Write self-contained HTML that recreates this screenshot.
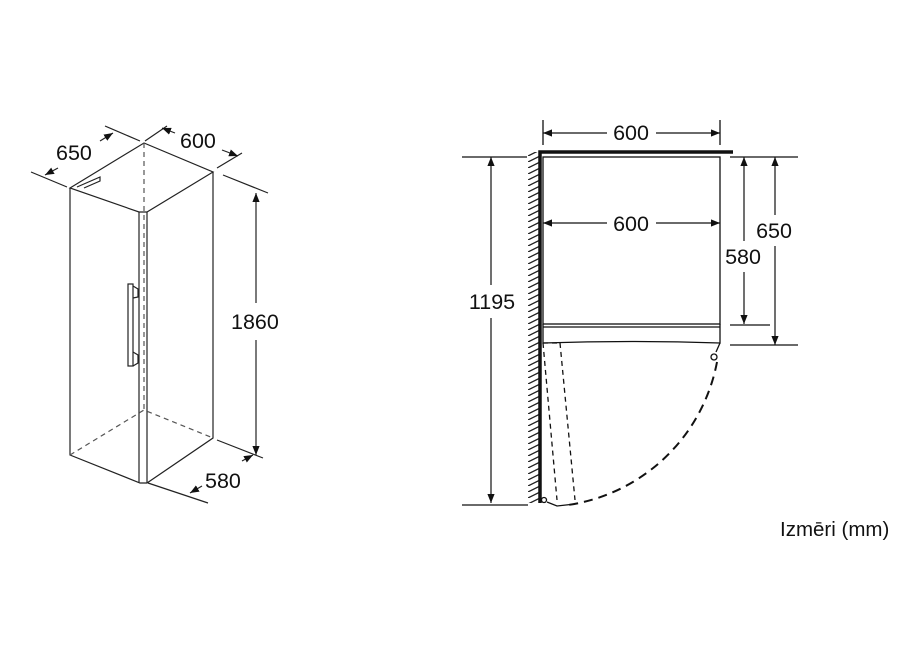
<!DOCTYPE html>
<html><head><meta charset="utf-8"><style>
html,body{margin:0;padding:0;background:#fff;}
svg{display:block;font-family:"Liberation Sans",sans-serif;}
</style></head><body>
<svg width="919" height="645" viewBox="0 0 919 645" xmlns="http://www.w3.org/2000/svg">
<defs>
<marker id="a" viewBox="0 0 10 10" refX="10" refY="5" markerWidth="9" markerHeight="9" orient="auto-start-reverse" markerUnits="userSpaceOnUse"><path d="M0,1 L10,5 L0,9 z" fill="#111"/></marker>
<pattern id="h" width="12" height="6" patternUnits="userSpaceOnUse"><path d="M0,6 L12,0" stroke="#222" stroke-width="1.3"/></pattern>
</defs>
<g stroke="#222" stroke-width="1.2" fill="none">
<path d="M70,188 L144,143 L213,172 L147,212 L139,212 L70,188 Z"/>
<path d="M70,188 L70,455 L140,483 L147,483 L213,438 L213,172"/>
<path d="M139,212 L139,483 M147,212 L147,483"/>
<path d="M144,143 L144,410 M70,455 L144,410 L213,438" stroke-dasharray="5,4" stroke="#555"/>
<path d="M77,187 L100,177 L100,181 L84,188" />
<rect x="128" y="284" width="5" height="82"/>
<path d="M133,286 L138,289 L138,297 L133,298 M133,352 L138,355 L138,363 L133,366"/>
<path d="M31,172 L67,187 M105,126 L140,141 M145,141 L167,126 M217,168 L242,153 M223,175 L268,193 M217,440 L263,458 M148,483 L208,503"/>
<path d="M58,168 L45,175" marker-end="url(#a)"/>
<path d="M100,141 L113,133" marker-end="url(#a)"/>
<path d="M175,133 L162,128" marker-end="url(#a)"/>
<path d="M222,150 L238,156" marker-end="url(#a)"/>
<path d="M256,303 L256,193" marker-end="url(#a)"/>
<path d="M256,340 L256,455" marker-end="url(#a)"/>
<path d="M202,486 L190,493" marker-end="url(#a)"/>
<path d="M242,461 L253,455" marker-end="url(#a)"/>
</g>
<g font-size="21.5" fill="#111">
<text x="56" y="160">650</text>
<text x="180" y="148">600</text>
<text x="231" y="329">1860</text>
<text x="205" y="488">580</text>
</g>
<rect x="528" y="152" width="12" height="351" fill="url(#h)"/>
<g stroke="#111" fill="none">
<path d="M540,503 L540,152 L733,152" stroke-width="3.5"/>
<g stroke-width="1.3">
<rect x="543" y="157" width="177" height="167"/>
<path d="M543,324 L543,343 Q632,340 720,343 L720,324 M543,327 L720,327"/>
<path d="M720,343 L716,352"/>
<circle cx="714" cy="357" r="3"/>
<circle cx="544" cy="500" r="2.5"/>
<path d="M543,343 L557,500 M560,343 L575,500 M543,343 L560,343" stroke-dasharray="5,4"/>
<path d="M547,502 L557,506 L575,504"/>
<path d="M717,362 A178,178 0 0 1 568,505" stroke-width="2" stroke-dasharray="9,6"/>
<path d="M543,120 L543,145 M720,120 L720,145 M462,157 L527,157 M462,505 L528,505 M730,157 L798,157 M730,325 L770,325 M730,345 L798,345"/>
</g>
<g stroke-width="1.2">
<path d="M607,133 L543,133" marker-end="url(#a)"/>
<path d="M656,133 L720,133" marker-end="url(#a)"/>
<path d="M607,223 L543,223" marker-end="url(#a)"/>
<path d="M656,223 L720,223" marker-end="url(#a)"/>
<path d="M491,285 L491,157" marker-end="url(#a)"/>
<path d="M491,318 L491,503" marker-end="url(#a)"/>
<path d="M744,241 L744,157" marker-end="url(#a)"/>
<path d="M744,272 L744,324" marker-end="url(#a)"/>
<path d="M775,215 L775,157" marker-end="url(#a)"/>
<path d="M775,246 L775,345" marker-end="url(#a)"/>
</g>
</g>
<g font-size="21.5" fill="#111" text-anchor="middle">
<text x="631" y="140">600</text>
<text x="631" y="231">600</text>
<text x="492" y="309">1195</text>
<text x="743" y="264">580</text>
<text x="774" y="238">650</text>
</g>
<text x="780" y="536" font-size="20.5" fill="#111">Izmēri (mm)</text>
</svg>
</body></html>
